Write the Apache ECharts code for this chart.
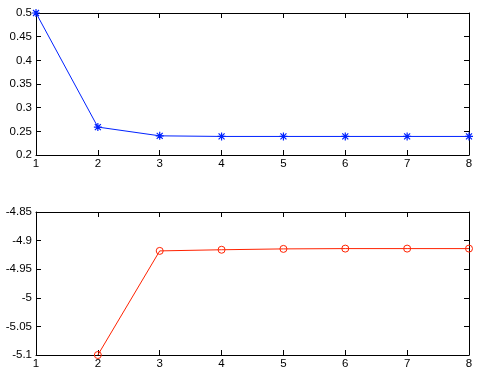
<!DOCTYPE html>
<html><head><meta charset="utf-8">
<script src="https://cdn.jsdelivr.net/npm/echarts@6/dist/echarts.min.js"></script>
<style>html,body{margin:0;padding:0;background:#fff}#c{width:482px;height:374px}</style>
</head><body><div id="c"></div>
<script>
var xValues = [1, 2, 3, 4, 5, 6, 7, 8];
var topValues = [0.5, 0.259, 0.2405, 0.2392, 0.2392, 0.2392, 0.2392, 0.2392];
var bottomValues = [null, -5.1, -4.918, -4.916, -4.9145, -4.914, -4.914, -4.914];
var topYTicks = {min: 0.2, max: 0.5, interval: 0.05};
var bottomYTicks = {min: -5.1, max: -4.85, interval: 0.05};

var chart = echarts.init(document.getElementById('c'));
var font = {fontFamily: 'Liberation Sans', fontSize: 11.5, color: '#000'};
var axLine = {show: true, lineStyle: {color: '#000', width: 1}};
var tick = {show: true, inside: true, length: 5, lineStyle: {color: '#000'}};
function xAx(grid, pos, labels) {
  return {type: 'value', gridIndex: grid, position: pos, min: 1, max: 8, interval: 1,
    axisLine: axLine, axisTick: tick, splitLine: {show: false},
    axisLabel: Object.assign({show: labels, margin: 3}, font)};
}
function yAx(grid, pos, labels, t) {
  return {type: 'value', gridIndex: grid, position: pos, min: t.min, max: t.max, interval: t.interval,
    axisLine: axLine, axisTick: tick, splitLine: {show: false},
    axisLabel: Object.assign({show: labels, margin: 4,
      formatter: function (v) { return String(parseFloat(v.toFixed(4))); }}, font)};
}
var star = 'path://M0,-1L0,1M-1,0L1,0M-0.75,-0.75L0.75,0.75M-0.75,0.75L0.75,-0.75';
chart.setOption({
  animation: false,
  grid: [
    {left: 36, top: 13, width: 433, height: 142},
    {left: 36, top: 212, width: 433, height: 143}
  ],
  xAxis: [xAx(0, 'bottom', true), xAx(0, 'top', false), xAx(1, 'bottom', true), xAx(1, 'top', false)],
  yAxis: [yAx(0, 'left', true, topYTicks), yAx(0, 'right', false, topYTicks),
          yAx(1, 'left', true, bottomYTicks), yAx(1, 'right', false, bottomYTicks)],
  series: [
    {type: 'line', xAxisIndex: 0, yAxisIndex: 0,
     data: xValues.map(function (x, i) { return [x, topValues[i]]; }),
     symbol: star, symbolSize: 8, showAllSymbol: true,
     lineStyle: {color: '#0022ff', width: 1},
     itemStyle: {color: 'none', borderColor: '#0022ff', borderWidth: 1.2}},
    {type: 'line', xAxisIndex: 2, yAxisIndex: 2,
     data: xValues.map(function (x, i) { return [x, bottomValues[i]]; }),
     symbol: 'circle', symbolSize: 7, showAllSymbol: true, connectNulls: false,
     lineStyle: {color: '#ff2200', width: 1},
     itemStyle: {color: 'none', borderColor: '#ff2200', borderWidth: 1}}
  ]
});
</script></body></html>
